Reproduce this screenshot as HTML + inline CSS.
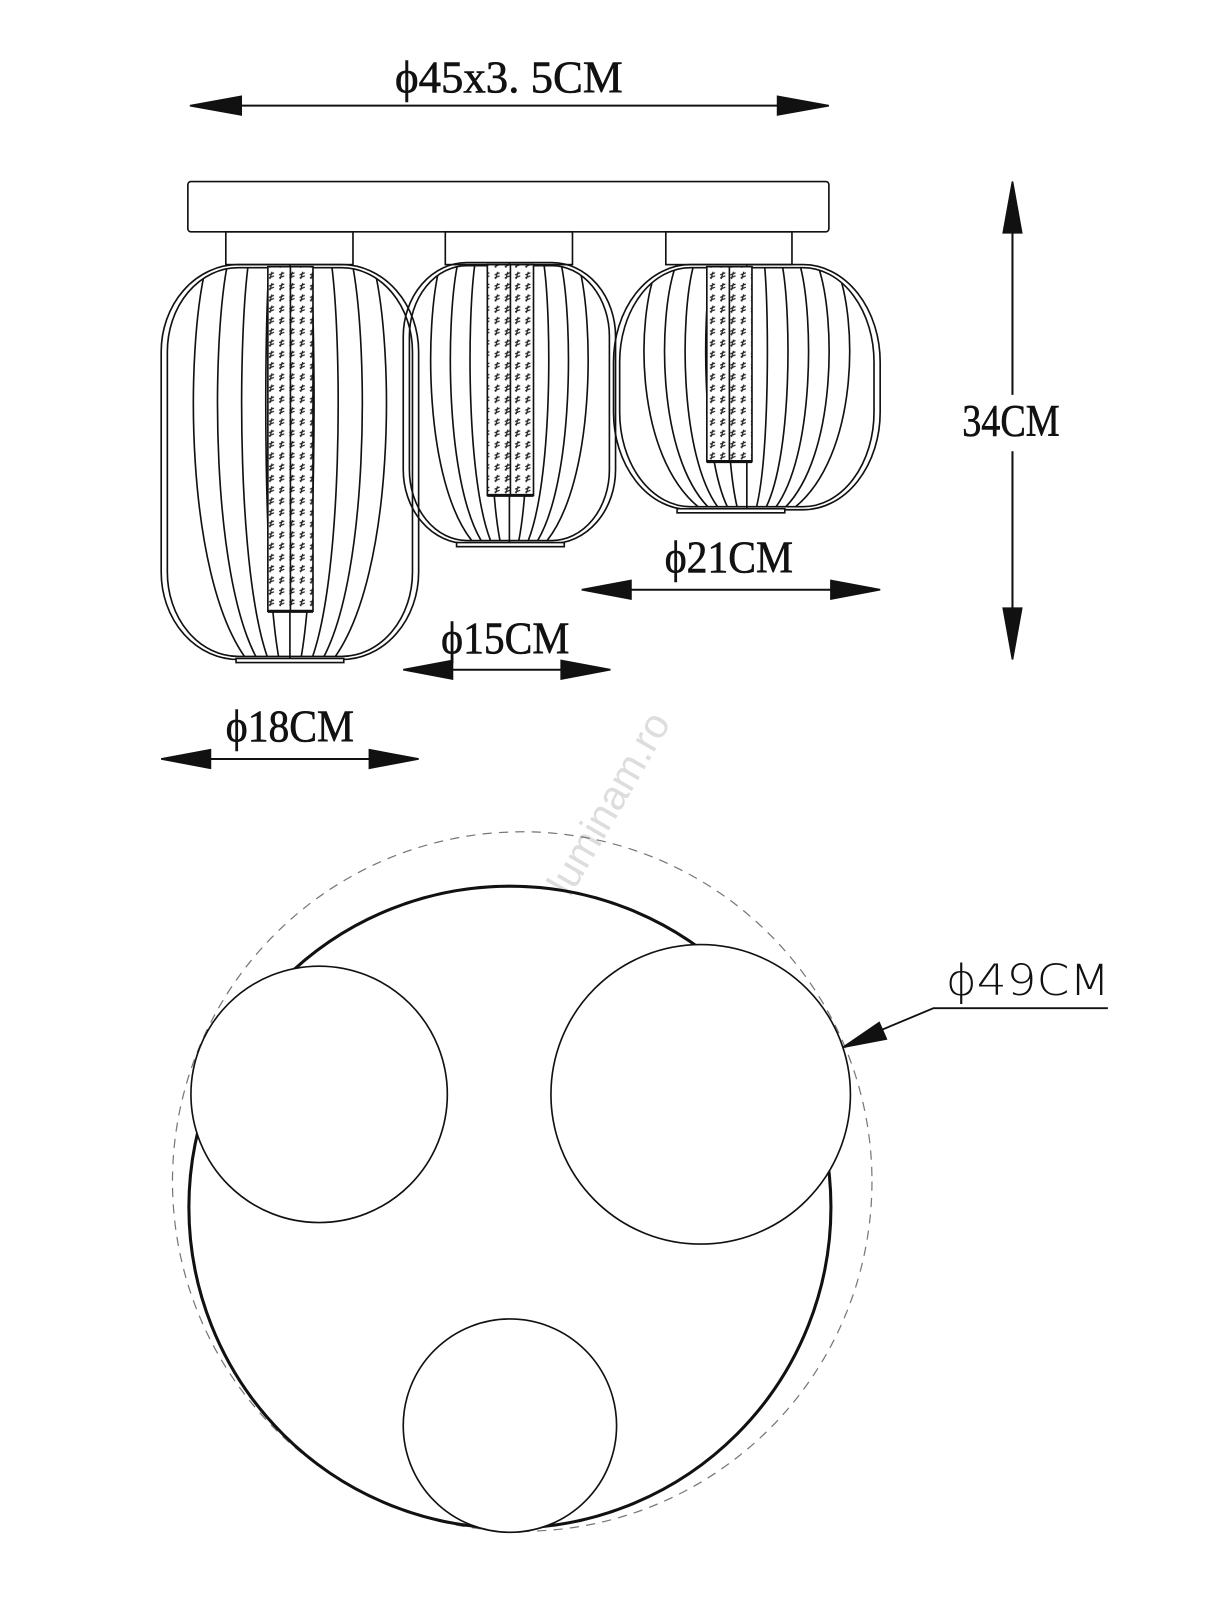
<!DOCTYPE html>
<html><head><meta charset="utf-8"><style>
html,body{margin:0;padding:0;background:#fff}
svg{display:block}
.s{font-family:"Liberation Serif",serif;font-size:44px;fill:#111;stroke:#111;stroke-width:0.6}
</style></head><body>
<svg id="v" width="1227" height="1600" viewBox="0 0 1196 1560" xmlns="http://www.w3.org/2000/svg">
<defs id="d">
<pattern id="h" width="10" height="11" patternUnits="userSpaceOnUse">
<rect width="10" height="11" fill="#fff"/>
<path d="M2 4 L7 2 M2 7 L7 5 M3 8 L5 1" stroke="#222" stroke-width="1.2"/>
</pattern>
</defs>
<g fill="none" stroke="#111" stroke-width="1.6">
<text x="385" y="90" class="s" textLength="222" lengthAdjust="spacingAndGlyphs">ϕ45x3. 5CM</text>
<line x1="230" y1="103" x2="765" y2="103" stroke-width="2"/>
<polygon points="185,103 235,94 235,112" fill="#111"/>
<polygon points="808,103 758,94 758,112" fill="#111"/>
<rect x="183" y="177" width="625" height="49" rx="3"/>
<rect x="220" y="226" width="124" height="32"/>
<rect x="434" y="226" width="124" height="32"/>
<rect x="649" y="226" width="123" height="32"/>
<g id="lamps"></g>
<line x1="987" y1="220" x2="987" y2="385" stroke-width="2"/>
<line x1="987" y1="440" x2="987" y2="600" stroke-width="2"/>
<polygon points="987,177 978,227 996,227" fill="#111"/>
<polygon points="987,643 978,593 996,593" fill="#111"/>
<text x="938" y="425" class="s" textLength="95" lengthAdjust="spacingAndGlyphs">34CM</text>
<text x="648" y="558" class="s" textLength="125" lengthAdjust="spacingAndGlyphs">ϕ21CM</text>
<line x1="600" y1="575" x2="820" y2="575" stroke-width="2"/>
<polygon points="567,575 615,566 615,584" fill="#111"/>
<polygon points="858,575 810,566 810,584" fill="#111"/>
<text x="430" y="637" class="s" textLength="125" lengthAdjust="spacingAndGlyphs">ϕ15CM</text>
<line x1="430" y1="653" x2="560" y2="653" stroke-width="2"/>
<polygon points="393,653 441,644 441,662" fill="#111"/>
<polygon points="595,653 547,644 547,662" fill="#111"/>
<text x="220" y="723" class="s" textLength="125" lengthAdjust="spacingAndGlyphs">ϕ18CM</text>
<line x1="195" y1="740" x2="370" y2="740" stroke-width="2"/>
<polygon points="157,740 205,731 205,749" fill="#111"/>
<polygon points="408,740 360,731 360,749" fill="#111"/>
<text x="605" y="790" transform="rotate(-60 605 790)" text-anchor="middle" stroke="none" fill="#ddd" font-family="Liberation Sans,sans-serif" font-size="40">luminam.ro</text>
<circle cx="509" cy="1152" r="341" stroke="#777" stroke-width="1.2" stroke-dasharray="9 7"/>
<circle cx="497" cy="1177" r="313" stroke-width="3"/>
<circle cx="311" cy="1067" r="125" fill="#fff"/>
<circle cx="683" cy="1067" r="146" fill="#fff"/>
<circle cx="497" cy="1390" r="104" fill="#fff"/>
<polyline points="850,1008 910,983 1080,983" stroke-width="1.8"/>
<polygon points="822,1021 857,997 864,1013" fill="#111"/>
<text x="922" y="970" stroke="none" fill="#111" font-family="DejaVu Sans,sans-serif" font-size="42" textLength="160" lengthAdjust="spacingAndGlyphs" style="font-weight:200">ϕ49CM</text>
</g>
</svg>
<script>
var g=document.getElementById('lamps'),D=document.getElementById('d');var S='http://www.w3.org/2000/svg';
function el(t,a,p){var e=document.createElementNS(S,t);for(var k in a)e.setAttribute(k,a[k]);(p||g).appendChild(e);return e;}
var id=0;
function lamp(x0,x1,y0,y1,rx,ry,sx0,sx1,sy1,cap0,cap1,n){
 var cx=(x0+x1)/2,w=(x1-x0)/2,h=y1-y0;id++;
 var cp=el('clipPath',{id:'c'+id},D);
 el('rect',{x:x0+6,y:y0+3,width:x1-x0-12,height:h-6,rx:rx-6,ry:ry-3},cp);
 el('rect',{x:x0,y:y0,width:x1-x0,height:h,rx:rx,ry:ry});
 el('rect',{x:x0+6,y:y0+3,width:x1-x0-12,height:h-6,rx:rx-6,ry:ry-3});
 var gg=el('g',{'clip-path':'url(#c'+id+')'});
 for(var k=1;k<=n;k++){var f=k/(n+0.6);
  [-1,1].forEach(function(s){
   var tx=cx+s*f*w*0.75,mx=cx+s*f*(w-8),bx=cx+s*f*w*0.4;
   el('path',{d:'M'+tx+' '+(y0+2)+' C'+mx+' '+(y0+h*0.22)+' '+mx+' '+(y1-h*0.22)+' '+bx+' '+(y1-2)},gg);
  });}
 el('line',{x1:cx,y1:y0,x2:cx,y2:y1});
 el('rect',{x:sx0,y:y0+2,width:sx1-sx0,height:sy1-y0-2,fill:'url(#h)'});
 el('line',{x1:(sx0+sx1)/2,y1:y0+2,x2:(sx0+sx1)/2,y2:sy1});
 el('line',{x1:sx0,y1:sy1,x2:sx1,y2:sy1,'stroke-width':3});
 el('rect',{x:cap0,y:y1-1,width:cap1-cap0,height:4,fill:'#fff'});
}
lamp(157,408,258,643,75,85,261,305,596,230,335,4);
lamp(393,600,256,530,62,72,475,520,483,445,550,4);
lamp(598,858,258,497,75,95,689,733,450,660,765,5);
</script>
</body></html>
